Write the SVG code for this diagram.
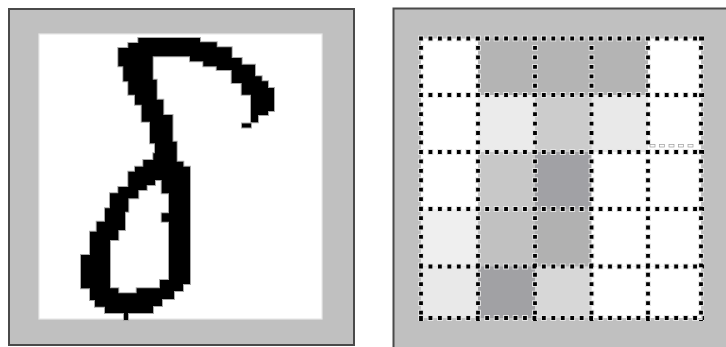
<svg xmlns="http://www.w3.org/2000/svg" width="726" height="347" viewBox="0 0 726 347">
<style>
.frame{fill:#c0c0c0;stroke:#4a4a4a;stroke-width:2}
.halo{fill:none;stroke:#e4e4e4;stroke-width:5.8;stroke-dasharray:5.8 3.65}
.dots{fill:none;stroke:#000;stroke-width:3.8;stroke-dasharray:3.8 5.65}
</style>
<rect width="726" height="347" fill="#ffffff"/>
<g id="digit-panel">
<rect class="frame" x="9" y="9" width="345" height="336"/>
<rect x="39" y="34" width="283" height="285" fill="#ffffff" stroke="#e8e8e8" stroke-width="1.2"/>
<g id="digit">
<path fill="#000" stroke="#a8a8a8" stroke-width="2" fill-rule="evenodd" d="M138.3,38 H200 V42.3 H216.7 V47.3 H231.7 V58 H241.7 V64.7 H255 V76.3 H261.7 V81.3 H268 V88 H274 V111 H268 V115 H258 V122.3 H251 V94.7 H241.7 V83 H231.7 V70 H216.7 V66.3 H203.3 V61.3 H190 V56.3 H152.7 V79.7 H156.7 V99.7 H163.3 V115 H172.5 V141.7 H176.7 V161.7 H183.3 V166.7 H190 V284 H183 V291 H174 V299 H162 V306 H153 V313 H128 V320 H124 V313 H105 V306.7 H95 V300 H90 V288.3 H81 V255 H90 V231.7 H96.7 V221.7 H105 V208.3 H110 V193.3 H118.3 V187 H128.3 V171.7 H135 V166.7 H143.3 V160 H153.3 V153.3 H155 V143.3 H150 V121.7 H141.7 V104.7 H135 V94.7 H128.3 V81.3 H123.3 V66.3 H118.3 V48 H128.3 V43 H138.3 Z M155,180 H161.7 V193.3 H169 V213.3 H161.7 V221.7 H169 V280 H160 V288.3 H136.7 V293.3 H118.3 V288.3 H110 V240 H118.3 V230 H125 V211.7 H128.3 V198.3 H138.3 V190 H146.7 V185 H155 Z"/>
<path fill="#000" fill-rule="evenodd" d="M138.3,38 H200 V42.3 H216.7 V47.3 H231.7 V58 H241.7 V64.7 H255 V76.3 H261.7 V81.3 H268 V88 H274 V111 H268 V115 H258 V122.3 H251 V94.7 H241.7 V83 H231.7 V70 H216.7 V66.3 H203.3 V61.3 H190 V56.3 H152.7 V79.7 H156.7 V99.7 H163.3 V115 H172.5 V141.7 H176.7 V161.7 H183.3 V166.7 H190 V284 H183 V291 H174 V299 H162 V306 H153 V313 H128 V320 H124 V313 H105 V306.7 H95 V300 H90 V288.3 H81 V255 H90 V231.7 H96.7 V221.7 H105 V208.3 H110 V193.3 H118.3 V187 H128.3 V171.7 H135 V166.7 H143.3 V160 H153.3 V153.3 H155 V143.3 H150 V121.7 H141.7 V104.7 H135 V94.7 H128.3 V81.3 H123.3 V66.3 H118.3 V48 H128.3 V43 H138.3 Z M155,180 H161.7 V193.3 H169 V213.3 H161.7 V221.7 H169 V280 H160 V288.3 H136.7 V293.3 H118.3 V288.3 H110 V240 H118.3 V230 H125 V211.7 H128.3 V198.3 H138.3 V190 H146.7 V185 H155 Z"/>
<rect x="241.5" y="123" width="10" height="5" fill="#000" stroke="#a8a8a8" stroke-width="1"/>
</g>
</g>
<g id="grid-panel">
<rect class="frame" x="393.5" y="8.5" width="345" height="350"/>
<g id="cells">
<rect x="421" y="38.5" width="57" height="56.5" fill="#ffffff"/>
<rect x="478" y="38.5" width="57" height="56.5" fill="#b4b4b4"/>
<rect x="535" y="38.5" width="56.5" height="56.5" fill="#b4b4b4"/>
<rect x="591.5" y="38.5" width="56.5" height="56.5" fill="#b4b4b4"/>
<rect x="648" y="38.5" width="53" height="56.5" fill="#ffffff"/>
<rect x="421" y="95" width="57" height="57" fill="#ffffff"/>
<rect x="478" y="95" width="57" height="57" fill="#ebebeb"/>
<rect x="535" y="95" width="56.5" height="57" fill="#cccccc"/>
<rect x="591.5" y="95" width="56.5" height="57" fill="#e9e9e9"/>
<rect x="648" y="95" width="53" height="57" fill="#ffffff"/>
<rect x="421" y="152" width="57" height="57" fill="#ffffff"/>
<rect x="478" y="152" width="57" height="57" fill="#c8c8c8"/>
<rect x="535" y="152" width="56.5" height="57" fill="#a1a1a5"/>
<rect x="591.5" y="152" width="56.5" height="57" fill="#ffffff"/>
<rect x="648" y="152" width="53" height="57" fill="#ffffff"/>
<rect x="421" y="209" width="57" height="57.5" fill="#efefef"/>
<rect x="478" y="209" width="57" height="57.5" fill="#c1c1c1"/>
<rect x="535" y="209" width="56.5" height="57.5" fill="#b1b1b1"/>
<rect x="591.5" y="209" width="56.5" height="57.5" fill="#ffffff"/>
<rect x="648" y="209" width="53" height="57.5" fill="#ffffff"/>
<rect x="421" y="266.5" width="57" height="51.5" fill="#e9e9e9"/>
<rect x="478" y="266.5" width="57" height="51.5" fill="#a1a1a4"/>
<rect x="535" y="266.5" width="56.5" height="51.5" fill="#d7d7d7"/>
<rect x="591.5" y="266.5" width="56.5" height="51.5" fill="#ffffff"/>
<rect x="648" y="266.5" width="53" height="51.5" fill="#ffffff"/>
</g>
<g id="grid-lines">
<path class="halo" d="M418.1,38.5 H704 M418.1,95 H704 M418.1,152 H704 M418.1,209 H704 M418.1,266.5 H704 M418.1,318 H704 M421,35.6 V321 M478,35.6 V321 M535,35.6 V321 M591.5,35.6 V321 M648,35.6 V321 M701,35.6 V321"/>
<path class="dots" d="M419.1,38.5 H704 M419.1,95 H704 M419.1,152 H704 M419.1,209 H704 M419.1,266.5 H704 M419.1,318 H704 M421,36.6 V321 M478,36.6 V321 M535,36.6 V321 M591.5,36.6 V321 M648,36.6 V321 M701,36.6 V321"/>
<g fill="#ffffff" stroke="#9a9a9a" stroke-width="0.7">
<rect x="650" y="144.5" width="5" height="2.5"/>
<rect x="659.5" y="144.5" width="5" height="2.5"/>
<rect x="669" y="144.5" width="5" height="2.5"/>
<rect x="678.5" y="144.5" width="5" height="2.5"/>
<rect x="688" y="144.5" width="5" height="2.5"/>
</g>
</g>
</g>
</svg>
